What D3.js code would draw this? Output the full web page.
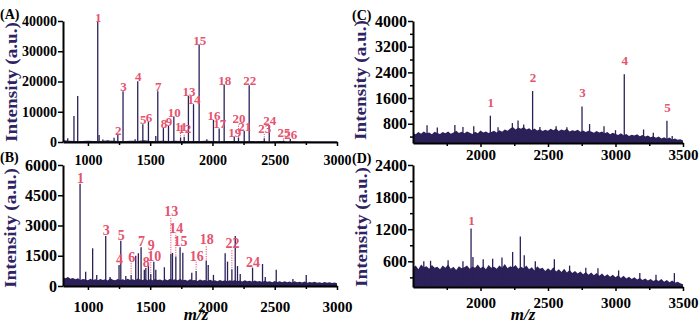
<!DOCTYPE html>
<html>
<head>
<meta charset="utf-8">
<script src="https://cdn.jsdelivr.net/npm/d3@7"></script>
<style>
  body { margin: 0; background: #fff; }
</style>
</head>
<body>
<svg id="fig" width="700" height="324"></svg>
<script>
// peaks: [m/z, intensity, label number (0 = none), label level for dotted leader]
const peaksA = [
    [838, 1200], [888, 8600], [918, 15200], [1079, 39700, 1], [1090, 2300], [1120, 800],
    [1160, 600], [1210, 1400], [1240, 2300, 2], [1282, 16800, 3], [1379, 900],
    [1400, 20100, 4], [1441, 5900, 5], [1486, 6700, 6], [1545, 2000], [1561, 16800, 7],
    [1606, 4600, 8], [1647, 5400, 9], [1690, 8400, 10], [1744, 1500, 11, 3600],
    [1773, 1700, 12, 2900], [1807, 15300, 13], [1848, 12500, 14], [1893, 32200, 15],
    [1955, 900], [2008, 7300, 16], [2054, 4500, 17], [2094, 19000, 18], [2175, 1800, 19],
    [2209, 1500, 20, 6200], [2255, 3600, 21], [2295, 18800, 22], [2416, 1200, 23, 3000],
    [2456, 5600, 24], [2571, 500, 25, 1650], [2625, 1000, 26]
];
const peaksB = [
    [937, 5070, 1], [982, 710], [1038, 1870], [1071, 550], [1143, 2480, 3], [1178, 450],
    [1250, 1040, 4], [1264, 2250, 5], [1304, 500], [1347, 550, 6, 1160], [1384, 1500],
    [1405, 1620], [1427, 1920, 7], [1453, 800], [1465, 890, 8], [1486, 1000],
    [1505, 600, 9, 1760], [1529, 1200, 10], [1545, 800], [1614, 930],
    [1666, 1600, 13, 3400], [1679, 1640], [1706, 1460, 14, 2600], [1740, 1920, 15],
    [1762, 1650], [1834, 660], [1869, 750, 16, 1210], [1950, 1260, 18, 2010], [1966, 1040],
    [2008, 550], [2102, 1620], [2121, 1210], [2156, 830, 22, 1810], [2183, 2480],
    [2201, 990], [2223, 600], [2322, 910, 24], [2402, 1090], [2424, 450], [2512, 800],
    [2646, 350], [2753, 550]
];
const peaksC = [
    [1604, 750], [1680, 680], [1810, 760], [1870, 700], [1950, 720], [2073, 1050, 1],
    [2130, 690], [2236, 820], [2278, 900], [2320, 780], [2386, 1820, 2], [2440, 700],
    [2560, 720], [2640, 690], [2752, 1340, 3], [2808, 790], [2915, 720], [3000, 600],
    [3065, 2340, 4], [3208, 620], [3280, 520], [3381, 890, 5], [3420, 420]
];
const peaksD = [
    [1580, 600], [1630, 610], [1760, 620], [1870, 600], [1930, 1215, 1], [1944, 680],
    [2020, 640], [2090, 650], [2159, 670], [2238, 775], [2295, 1064], [2324, 712],
    [2406, 600], [2547, 640], [2660, 520], [2780, 480], [2870, 470], [3023, 430],
    [3180, 380], [3300, 350], [3436, 380]
];

// baseline noise levels
const noiseA = [600, 400, 350, 300, 450, 350, 300, 500, 400, 350, 300, 400, 350, 600, 300,
    350, 450, 300, 400, 350, 300, 350, 300, 450, 300, 250, 300, 350, 300, 250, 300, 250,
    300, 200, 250, 300, 200, 250, 200, 250, 200, 150, 200, 150, 200];   // 800..3000 step 50
const noiseB = [420, 380, 450, 360, 400, 330, 380, 300, 350, 320,
    290, 360, 300, 340, 280, 350, 300, 330, 270, 380,
    310, 290, 350, 300, 330, 280, 360, 300, 340, 290,
    370, 320, 300, 350, 290, 330, 280, 350, 300, 320,
    270, 340, 290, 360, 300, 330, 280, 350, 290, 310,
    260, 330, 280, 300, 250, 320, 270, 300, 250, 310,
    260, 290, 240, 300, 250, 280, 230, 290, 250, 300,
    240, 270, 220, 280, 230, 260, 210, 270, 220, 250,
    200, 260, 210, 240, 190, 250, 200, 230, 180, 240,
    190, 220, 170, 230, 180, 210, 170, 220, 160, 200,
    170, 210, 160, 190, 150, 200, 160, 180, 150, 170, 140];          // 800..3000 step 20
const noiseC = [520, 470, 540, 490, 560, 500, 530, 470, 550, 510,
    480, 540, 500, 560, 490, 530, 580, 510, 550, 500,
    560, 520, 480, 550, 500, 590, 530, 560, 510, 540,
    580, 530, 600, 550, 620, 580, 650, 700, 620, 680,
    640, 700, 620, 660, 600, 650, 590, 630, 570, 610,
    580, 640, 600, 650, 570, 620, 590, 640, 560, 600,
    570, 610, 550, 590, 540, 580, 560, 520, 570, 530,
    560, 500, 540, 470, 520, 480, 450, 500, 440, 480,
    420, 460, 430, 470, 410, 450, 400, 430, 380, 410,
    360, 400, 340, 380, 330, 370, 310, 340, 300, 320, 280];          // 1500..3500 step 20
const noiseD = [480, 520, 450, 540, 490, 510, 460, 530, 480, 500,
    450, 520, 480, 540, 460, 500, 440, 510, 470, 490,
    520, 460, 500, 480, 540, 470, 510, 450, 530, 480,
    500, 460, 520, 480, 550, 470, 510, 490, 530, 460,
    500, 470, 520, 450, 490, 430, 510, 460, 480, 420,
    470, 430, 490, 410, 450, 400, 460, 390, 440, 380,
    420, 370, 410, 360, 400, 350, 390, 340, 380, 330,
    370, 320, 360, 310, 350, 300, 340, 290, 330, 280,
    310, 270, 300, 260, 290, 250, 280, 240, 270, 230,
    260, 230, 270, 220, 250, 210, 240, 200, 220, 190, 170];          // 1500..3500 step 20

const xTicksAB = [1000, 1500, 2000, 2500, 3000];
const xMinorAB = [1250, 1750, 2250, 2750];
const xTicksCD = [2000, 2500, 3000, 3500];
const xMinorCD = [1750, 2250, 2750, 3250];
const yTicksA = [0, 10000, 20000, 30000, 40000];
const yTicksB = [0, 1500, 3000, 4500, 6000];
const yTicksC = [800, 1600, 2400, 3200, 4000];
const yMinorC = [400, 1200, 2000, 2800, 3600];
const yTicksD = [600, 1200, 1800, 2400];
const yMinorD = [300, 900, 1500, 2100];

const FONT = '"Liberation Serif", "Times New Roman", serif';
const SPEC = '#2b2158';
const RED = '#e5536f';

const svg = d3.select('#fig');

const panels = [
    { name: '(A)', peaks: peaksA, noise: noiseA, nStart: 800, nStep: 50,
      xDom: [800, 3000], yDom: [0, 40000], xMajor: xTicksAB, xMinor: xMinorAB,
      yMajor: yTicksA, yMinor: [],
      left: 63, right: 337, top: 21, bottom: 142, xLab: 22.5, yFont: 14, xFont: 14,
      labFont: 13, gap: 0, tag: [0, 19], title: [11, 82] },
    { name: '(B)', peaks: peaksB, noise: noiseB, nStart: 800, nStep: 20,
      xDom: [800, 3000], yDom: [0, 6000], xMajor: xTicksAB, xMinor: xMinorAB,
      yMajor: yTicksB, yMinor: [],
      left: 63, right: 337, top: 165, bottom: 286, xLab: 25.5, yFont: 16, xFont: 15,
      labFont: 14, gap: 1, tag: [0, 162], title: [10, 228], mz: [196, 319.5] },
    { name: '(C)', peaks: peaksC, noise: noiseC, nStart: 1500, nStep: 20,
      xDom: [1500, 3500], yDom: [200, 4000], xMajor: xTicksCD, xMinor: xMinorCD,
      yMajor: yTicksC, yMinor: yMinorC,
      left: 413, right: 683, top: 21, bottom: 143, xLab: 17, yFont: 16, xFont: 15,
      labFont: 13, gap: 9, tag: [352, 20], title: [360, 80] },
    { name: '(D)', peaks: peaksD, noise: noiseD, nStart: 1500, nStep: 20,
      xDom: [1500, 3500], yDom: [120, 2400], xMajor: xTicksCD, xMinor: xMinorCD,
      yMajor: yTicksD, yMinor: yMinorD,
      left: 413, right: 683, top: 165, bottom: 287, xLab: 21, yFont: 16, xFont: 15,
      labFont: 13, gap: 3, tag: [352, 163], title: [361, 227], mz: [523, 319.5] }
];

function styleAxis(g, size) {
    g.attr('font-family', FONT).attr('font-size', size).attr('font-weight', 'bold');
    g.select('.domain').attr('stroke', '#000').attr('stroke-width', 2);
    g.selectAll('.tick line').attr('stroke', '#000').attr('stroke-width', 1.5);
    g.selectAll('.tick text').attr('fill', '#000');
}

panels.forEach(p => {
    const x = d3.scaleLinear().domain(p.xDom).range([p.left, p.right]);
    const y = d3.scaleLinear().domain(p.yDom).range([p.bottom, p.top]);
    const g = svg.append('g');
    const y0 = y(p.yDom[0]);

    // noise floor
    const pts = p.noise.map((v, i) => [p.nStart + i * p.nStep, v]);
    g.append('path')
        .datum(pts)
        .attr('d', d3.area().x(d => x(d[0])).y0(y0).y1(d => y(d[1])))
        .attr('fill', SPEC);

    // peaks
    g.selectAll('line.pk').data(p.peaks).join('line')
        .attr('class', 'pk')
        .attr('x1', d => x(d[0])).attr('x2', d => x(d[0]))
        .attr('y1', y0).attr('y2', d => y(d[1]))
        .attr('stroke', SPEC).attr('stroke-width', 1.3);

    const labelled = p.peaks.filter(d => d[2]);

    // dotted leaders
    g.selectAll('line.ld').data(labelled.filter(d => d[3])).join('line')
        .attr('class', 'ld')
        .attr('x1', d => x(d[0])).attr('x2', d => x(d[0]))
        .attr('y1', d => y(d[1]) - 1).attr('y2', d => y(d[3]) - p.gap + 1)
        .attr('stroke', RED).attr('stroke-width', 1)
        .attr('stroke-dasharray', '1.2,1.2');

    g.selectAll('text.lb').data(labelled).join('text')
        .attr('class', 'lb')
        .attr('x', d => x(d[0]) + 0.5)
        .attr('y', d => y(d[3] || d[1]) - p.gap)
        .attr('text-anchor', 'middle')
        .attr('font-family', FONT).attr('font-size', p.labFont).attr('font-weight', 'bold')
        .attr('fill', RED)
        .text(d => d[2]);

    // axes
    g.append('g')
        .attr('transform', `translate(0,${p.bottom})`)
        .call(d3.axisBottom(x).tickValues(p.xMinor).tickSize(3).tickSizeOuter(0).tickFormat(''))
        .call(a => { a.select('.domain').remove(); a.selectAll('line').attr('stroke', '#000').attr('stroke-width', 1.5); });
    const xa = g.append('g')
        .attr('transform', `translate(0,${p.bottom})`)
        .call(d3.axisBottom(x).tickValues(p.xMajor).tickSize(4).tickSizeOuter(0).tickFormat(d3.format('d')));
    styleAxis(xa, p.xFont);
    xa.selectAll('.tick text').attr('y', p.xLab).attr('dy', null);

    if (p.yMinor.length) {
        g.append('g')
            .attr('transform', `translate(${p.left},0)`)
            .call(d3.axisLeft(y).tickValues(p.yMinor).tickSize(3).tickSizeOuter(0).tickFormat(''))
            .call(a => { a.select('.domain').remove(); a.selectAll('line').attr('stroke', '#000').attr('stroke-width', 1.5); });
    }
    const ya = g.append('g')
        .attr('transform', `translate(${p.left},0)`)
        .call(d3.axisLeft(y).tickValues(p.yMajor).tickSize(5).tickPadding(1).tickSizeOuter(0).tickFormat(d3.format('d')));
    styleAxis(ya, p.yFont);

    // panel tag
    svg.append('text')
        .attr('x', p.tag[0]).attr('y', p.tag[1])
        .attr('font-family', FONT).attr('font-size', 14).attr('font-weight', 'bold')
        .text(p.name);

    // y title
    svg.append('text')
        .attr('transform', `translate(${p.title[0] + 6},${p.title[1]}) rotate(-90)`)
        .attr('text-anchor', 'middle')
        .attr('font-family', FONT).attr('font-size', 17).attr('font-weight', 'bold')
        .attr('fill', '#2f2463')
        .attr('textLength', 120).attr('lengthAdjust', 'spacingAndGlyphs')
        .text('Intensity (a.u.)');

    if (p.mz) {
        svg.append('text')
            .attr('x', p.mz[0]).attr('y', p.mz[1])
            .attr('text-anchor', 'middle')
            .attr('font-family', FONT).attr('font-size', 17)
            .attr('font-weight', 'bold').attr('font-style', 'italic')
            .text('m/z');
    }
});
</script>
</body>
</html>
